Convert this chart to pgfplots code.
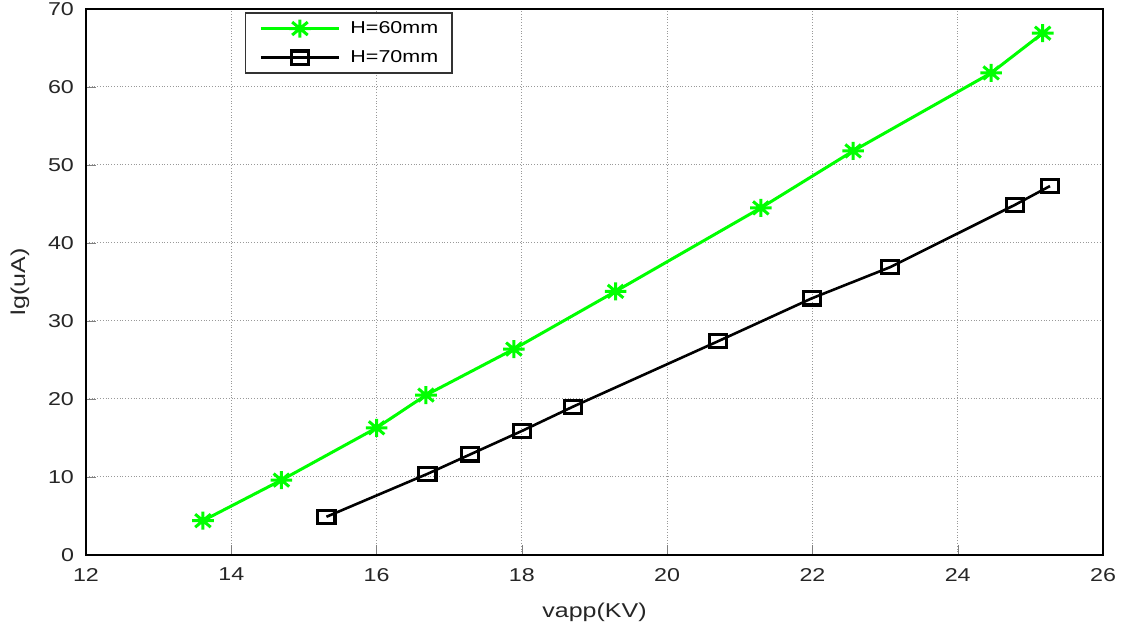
\documentclass[border=0pt]{standalone}
\usepackage{pgfplots}
\pgfplotsset{compat=1.18}
\usepackage{fontspec}
\setmainfont{Liberation Sans}[FakeStretch=1.25]
\definecolor{lgreen}{RGB}{0,255,0}
\pgfdeclareplotmark{mstar}{%
  \pgfpathmoveto{\pgfqpoint{-\pgfplotmarksize}{0pt}}\pgfpathlineto{\pgfqpoint{\pgfplotmarksize}{0pt}}%
  \pgfpathmoveto{\pgfqpoint{0pt}{-\pgfplotmarksize}}\pgfpathlineto{\pgfqpoint{0pt}{\pgfplotmarksize}}%
  \pgfpathmoveto{\pgfqpoint{-0.72\pgfplotmarksize}{-0.72\pgfplotmarksize}}\pgfpathlineto{\pgfqpoint{0.72\pgfplotmarksize}{0.72\pgfplotmarksize}}%
  \pgfpathmoveto{\pgfqpoint{-0.72\pgfplotmarksize}{0.72\pgfplotmarksize}}\pgfpathlineto{\pgfqpoint{0.72\pgfplotmarksize}{-0.72\pgfplotmarksize}}%
  \pgfusepathqstroke}
\begin{document}
\begin{tikzpicture}
\path[use as bounding box] (-43pt,-35.5pt) rectangle (519.5pt,277.5pt);
\begin{axis}[
  scale only axis,
  width=508.5pt, height=273pt,
  xmin=12, xmax=26, ymin=0, ymax=70,
  xtick={12,14,...,26}, ytick={0,10,...,70},
  tick align=inside, tick pos=left,
  major tick length=5pt,
  grid=major,
  major grid style={densely dotted, gray!80, line width=0.5pt},
  axis line style={line width=1.2pt},
  /pgf/number format/assume math mode=true,
  tick label style={font=\fontsize{9.3pt}{11pt}\selectfont, text=black!85},
  xticklabel style={yshift=-3pt},
  yticklabel style={xshift=-2.5pt},
  xlabel={vapp(KV)},
  ylabel={lg(uA)},
  label style={font=\fontsize{10pt}{12pt}\selectfont, text=black!85},
  xlabel style={at={(axis description cs:0.5,0)}, anchor=base, yshift=-31.5pt},
  ylabel style={at={(axis description cs:-0.0649,0.5)}, anchor=center},
  legend style={at={(0.156,0.994)}, anchor=north west, font=\fontsize{8.6pt}{10pt}\selectfont,
    draw=black!80, line width=0.8pt, inner xsep=7pt, inner ysep=0.5pt, row sep=0pt, column sep=5pt,
    nodes={inner sep=0pt, minimum height=14.5pt}},
  legend cell align=left,
  legend image code/.code={\draw[mark repeat=2,mark phase=2,#1] plot coordinates {(0pt,0pt) (19.5pt,0pt) (39pt,0pt)};},
]
\addplot[lgreen, line width=1.5pt, mark=mstar, mark size=4.5pt, mark options={line width=1.5pt, xscale=1.2}] coordinates {
(13.61,4.4) (14.69,9.6) (16.00,16.3) (16.68,20.5) (17.89,26.4) (19.29,33.8) (21.29,44.5) (22.56,51.8) (24.46,61.8) (25.17,66.9)
};
\addlegendentry{H=60mm}
\addplot[black, line width=1.3pt, mark=square, mark size=3.3pt, mark options={line width=1.6pt, xscale=1.3}] coordinates {
(15.31,4.9) (16.70,10.4) (17.29,12.9) (18.00,15.9) (18.70,19.0) (20.70,27.4) (21.99,32.9) (23.07,36.9) (24.79,44.9) (25.27,47.3)
};
\addlegendentry{H=70mm}
\end{axis}
\end{tikzpicture}
\end{document}
